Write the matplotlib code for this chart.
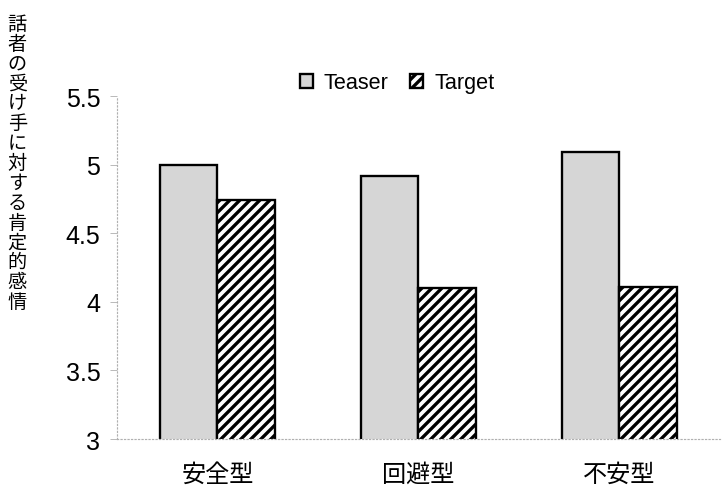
import numpy as np
import matplotlib
matplotlib.use("Agg")
import matplotlib.pyplot as plt
from matplotlib import font_manager

# Data
categories = ["安全型", "回避型", "不安型"]
teaser = [5.00, 4.92, 5.09]
target = [4.74, 4.10, 4.11]
series_names = ["Teaser", "Target"]
yticks = [3, 3.5, 4, 4.5, 5, 5.5]
ytick_labels = ["3", "3.5", "4", "4.5", "5", "5.5"]
ylabel = "話者の受け手に対する肯定的感情"

available = {f.name for f in font_manager.fontManager.ttflist}
narrow = "Liberation Sans Narrow" if "Liberation Sans Narrow" in available else "Liberation Sans"
jp = "Noto Sans CJK JP"
plt.rcParams["font.family"] = [jp, "DejaVu Sans"]
plt.rcParams["hatch.linewidth"] = 2.0

DPI = 120
fig = plt.figure(figsize=(722 / DPI, 490 / DPI), dpi=DPI)
ax = fig.add_axes([0.162, 0.102, 0.835, 0.700])

x = np.arange(len(categories))
w = 0.287
ax.bar(x - w / 2, teaser, w, facecolor="#d6d6d6", edgecolor="black",
       linewidth=1.4, label=series_names[0])
ax.bar(x + w / 2, target, w, facecolor="white", edgecolor="black",
       hatch="////", linewidth=1.4, label=series_names[1])

ax.set_xlim(-0.5, 2.5)
ax.set_ylim(3, 5.5)
ax.set_yticks(yticks)
ax.set_yticklabels(ytick_labels, family=[narrow, "DejaVu Sans"], fontsize=15)
ax.set_xticks(x)
ax.set_xticklabels(categories, fontsize=14.5)
ax.tick_params(axis="x", length=0, pad=13)
ax.tick_params(axis="y", length=4, width=0.6, color="#bbbbbb", pad=6)

for side in ("top", "right"):
    ax.spines[side].set_visible(False)
for side in ("left", "bottom"):
    ax.spines[side].set_color("#b0b0b0")
    ax.spines[side].set_linewidth(0.7)
    ax.spines[side].set_linestyle((0, (1, 2)))

# Vertical, stacked y-axis title
fig.text(0.024, 0.972, "\n".join(ylabel), ha="center", va="top",
         fontsize=11.5, linespacing=0.93)

leg = fig.legend(loc="center", bbox_to_anchor=(0.55, 0.829), ncol=2,
                 frameon=False, handlelength=0.6,
                 handleheight=0.6, handletextpad=0.5, columnspacing=1.0,
                 prop={"family": [narrow, "DejaVu Sans"], "size": 13})

fig.savefig("out.png", dpi=DPI)
